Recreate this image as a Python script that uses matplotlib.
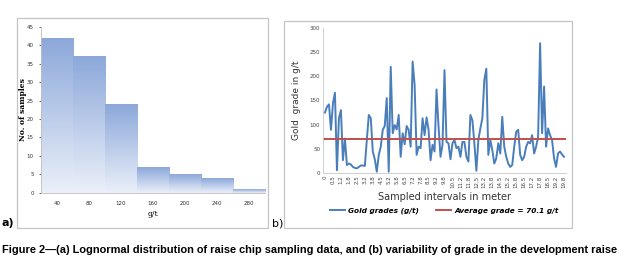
import numpy as np
import matplotlib
matplotlib.use("Agg")
from matplotlib import pyplot as plt
from matplotlib.colors import LinearSegmentedColormap
from matplotlib.patches import Rectangle

# panel a: histogram
bins = ["40", "80", "120", "160", "200", "240", "280"]
counts = [42, 37, 24, 7, 5, 4, 1]

# panel b: gold grade along the raise
grades = [125, 137, 142, 89, 144, 166, 5, 113, 130, 26, 71,
          16, 19, 17, 12, 10, 9, 12, 15, 15, 14,
          68, 120, 113, 44, 28, 2, 37, 54, 89, 97, 155, 2, 220,
          82, 99, 90, 120, 33, 82, 59, 97, 89, 54, 231, 182, 37,
          54, 51, 113, 78, 115, 89, 26, 58, 44, 173, 96, 33, 58,
          213, 64, 61, 28, 61, 68, 51, 54, 33, 64, 64, 33, 23,
          120, 109, 61, 4, 68, 92, 113, 193, 216, 37, 68, 47, 19,
          30, 61, 40, 116, 54, 33, 19, 12, 16, 54, 85, 89, 37,
          26, 33, 54, 64, 61, 78, 40, 54, 75, 269, 82, 179, 54,
          92, 78, 68, 30, 12, 40, 44, 38, 33]
average = 70.1
interval_labels = ["0", "0.5", "1.2", "1.8", "2.5", "3.2", "3.8", "4.5", "5.2",
                   "5.8", "6.5", "7.2", "7.8", "8.5", "9.2", "9.8", "10.5",
                   "11.2", "11.8", "12.5", "13.2", "13.8", "14.5", "15.2",
                   "15.8", "16.5", "17.2", "17.8", "18.5", "19.2", "19.8"]

W, H = 630, 268


def fig_rect(x0, y0, x1, y1):
    # pixel box (top-left origin) -> figure fraction [l, b, w, h]
    return [x0 / W, 1 - y1 / H, (x1 - x0) / W, (y1 - y0) / H]


fig = plt.figure(figsize=(6.3, 2.68), dpi=100)
fig.patch.set_facecolor("white")

# panel frames
for x0, y0, x1, y1 in [(17, 18, 268, 228), (284, 21, 572, 228)]:
    l, b, w, h = fig_rect(x0, y0, x1, y1)
    fig.patches.append(Rectangle((l, b), w, h, transform=fig.transFigure,
                                 fill=False, edgecolor="#c4c4c4", lw=0.9))

# ---- a) histogram ----
ax1 = fig.add_axes(fig_rect(40.7, 27, 265, 192.7))
cmap = LinearSegmentedColormap.from_list("bar", ["#ebf0f9", "#8ca8da"])
grad = np.linspace(0, 1, 256).reshape(-1, 1)
x_pos = np.arange(len(counts))
bars = ax1.bar(x_pos, counts, width=1.0, color="none", edgecolor="none")
for bar in bars:
    x0 = bar.get_x()
    ax1.imshow(grad, cmap=cmap, aspect="auto", origin="lower",
               extent=(x0, x0 + bar.get_width(), 0, bar.get_height()), zorder=1)
ax1.set_xlim(-0.5, len(counts) - 0.5)
ax1.set_ylim(0, 45)
ax1.set_yticks(range(0, 46, 5))
ax1.set_xticks(x_pos)
ax1.set_xticklabels(bins)
ax1.tick_params(axis="both", labelsize=4, colors="#333333", length=1.5, width=0.5)
ax1.tick_params(axis="x", length=0, pad=6)
for s in ["top", "right"]:
    ax1.spines[s].set_visible(False)
for s in ["left", "bottom"]:
    ax1.spines[s].set_color("#bfbfbf")
    ax1.spines[s].set_linewidth(0.6)
ax1.set_ylabel("No. of samples", fontsize=5.5, fontweight="bold",
               family="DejaVu Serif")
ax1.yaxis.set_label_coords(-0.061, 0.5)
ax1.set_xlabel("g/t", fontsize=5.5, family="DejaVu Serif", labelpad=3)

# ---- b) grade variability ----
ax2 = fig.add_axes(fig_rect(323, 28.3, 566, 172.7))
n = len(grades)
idx = np.arange(n)
ax2.plot(idx, grades, color="#4a7ebb", lw=1.4, label="Gold grades (g/t)")
ax2.plot([-1, n], [average, average], color="#c0504d", lw=1.4,
         label="Average grade = 70.1 g/t")
ax2.set_xlim(-1, n)
ax2.set_ylim(0, 300)
ax2.set_yticks(range(0, 301, 50))
ax2.set_xticks(idx[::4])
ax2.set_xticklabels(interval_labels, rotation=90)
ax2.tick_params(axis="both", labelsize=4, colors="#444444", length=0, pad=2)
for s in ["top", "right"]:
    ax2.spines[s].set_visible(False)
for s in ["left", "bottom"]:
    ax2.spines[s].set_color("#c8c8c8")
    ax2.spines[s].set_linewidth(0.6)
ax2.set_ylabel("Gold  grade in g/t", fontsize=6.5, color="#333333", labelpad=6)
ax2.set_xlabel("Sampled intervals in meter", fontsize=7, color="#333333", labelpad=3)
leg = ax2.legend(loc="center", bbox_to_anchor=(0.5, -0.265), ncol=2,
                 frameon=False, handlelength=2.0, handletextpad=0.5,
                 columnspacing=2.3,
                 prop={"size": 5.3, "weight": "bold", "style": "italic"})

# panel letters and caption
fig.text(2 / W, 1 - 223 / H, "a)", fontsize=8, fontweight="bold", va="center")
fig.text(272 / W, 1 - 223 / H, "b)", fontsize=8, va="center")
fig.text(2 / W, 1 - 250 / H,
         "Figure 2\u2014(a) Lognormal distribution of raise chip sampling data, "
         "and (b) variability of grade in the development raise",
         fontsize=7.95, fontweight="bold", va="center",
         family=["Liberation Sans Narrow", "Liberation Sans", "DejaVu Sans"])

fig.savefig("out.png", dpi=100)
